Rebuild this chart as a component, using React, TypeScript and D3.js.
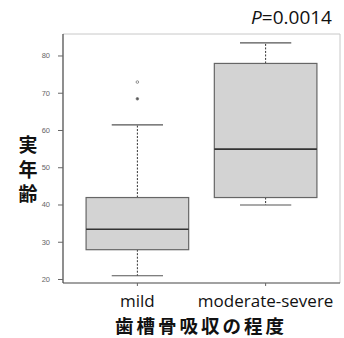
import React from "react";
import * as d3 from "d3";

const categories = ["mild", "moderate-severe"];
const lowerWhisker = [21, 40];
const q1 = [28, 42];
const medians = [33.5, 55];
const q3 = [42, 78];
const upperWhisker = [61.5, 83.5];
const outliers = [[73, 68.5], []];
const yTicks = [20, 30, 40, 50, 60, 70, 80];
const pLabel = "=0.0014";
const yTitleChars = ["実", "年", "齢"];
const xTitle = "歯槽骨吸収の程度";

const W = 344, H = 338;
const L = 63, R = 340, T = 34, B = 283;

export default function App() {
  const y = d3.scaleLinear().domain([19.06, 85.9]).range([B, T]);
  const x = d3.scaleLinear().domain([0.42, 2.58]).range([L, R]);
  const unit = x(1) - x(0);
  const boxW = unit * 0.8;
  const capW = boxW * 0.5;
  return (
    <svg width={W} height={H} style={{ position: "absolute", left: 0, top: 0 }}>
      <rect x={0} y={0} width={W} height={H} fill="#fff" />
      <line x1={L} y1={T} x2={R} y2={T} stroke="#c8c8c8" strokeWidth={1} />
      <line x1={R} y1={T} x2={R} y2={B} stroke="#c8c8c8" strokeWidth={1} />
      <line x1={L} y1={T} x2={L} y2={B} stroke="#444" strokeWidth={1.2} />
      <line x1={L} y1={B} x2={R} y2={B} stroke="#444" strokeWidth={1.2} />
      {yTicks.map((t) => (
        <g key={t}>
          <line x1={L - 5} x2={L} y1={y(t)} y2={y(t)} stroke="#666" strokeWidth={1} />
          <text x={L - 13} y={y(t) + 2.5} fontSize={7.5} fill="#666" textAnchor="end" fontFamily="Liberation Sans, Arial, sans-serif">{t}</text>
        </g>
      ))}
      {categories.map((c, i) => {
        const cx = x(i + 1);
        return (
          <g key={c}>
            <line x1={cx} x2={cx} y1={B} y2={B + 3} stroke="#666" strokeWidth={1} />
            <line x1={cx} x2={cx} y1={y(q3[i])} y2={y(upperWhisker[i])} stroke="#333" strokeWidth={1} strokeDasharray="2,1.5" />
            <line x1={cx} x2={cx} y1={y(q1[i])} y2={y(lowerWhisker[i])} stroke="#333" strokeWidth={1} strokeDasharray="2,1.5" />
            <line x1={cx - capW / 2} x2={cx + capW / 2} y1={y(upperWhisker[i])} y2={y(upperWhisker[i])} stroke="#555" strokeWidth={1.2} />
            <line x1={cx - capW / 2} x2={cx + capW / 2} y1={y(lowerWhisker[i])} y2={y(lowerWhisker[i])} stroke="#555" strokeWidth={1.2} />
            <rect x={cx - boxW / 2} y={y(q3[i])} width={boxW} height={y(q1[i]) - y(q3[i])} fill="#d3d3d3" stroke="#666" strokeWidth={1.2} />
            <line x1={cx - boxW / 2} x2={cx + boxW / 2} y1={y(medians[i])} y2={y(medians[i])} stroke="#333" strokeWidth={1.6} />
            {outliers[i].map((o, k) => (
              <circle key={k} cx={cx} cy={y(o)} r={1.3} fill={k === 1 ? "#555" : "none"} stroke="#777" strokeWidth={0.8} />
            ))}
            <text x={cx} y={307} fontSize={17} textAnchor="middle" fill="#111" fontFamily="Open Sans, sans-serif">{c}</text>
          </g>
        );
      })}
      <text x={201} y={333} fontSize={18.5} letterSpacing={3} fontWeight="bold" textAnchor="middle" fill="#111" fontFamily="Noto Sans CJK JP, sans-serif">{xTitle}</text>
      {yTitleChars.map((ch, k) => (
        <text key={k} x={28} y={152 + k * 24.5} fontSize={19} fontWeight="bold" textAnchor="middle" fill="#111" fontFamily="Noto Sans CJK JP, sans-serif">{ch}</text>
      ))}
      <text x={332} y={24} fontSize={19} textAnchor="end" fill="#111" fontFamily="Open Sans, sans-serif">
        <tspan fontStyle="italic">P</tspan>{pLabel}
      </text>
    </svg>
  );
}
